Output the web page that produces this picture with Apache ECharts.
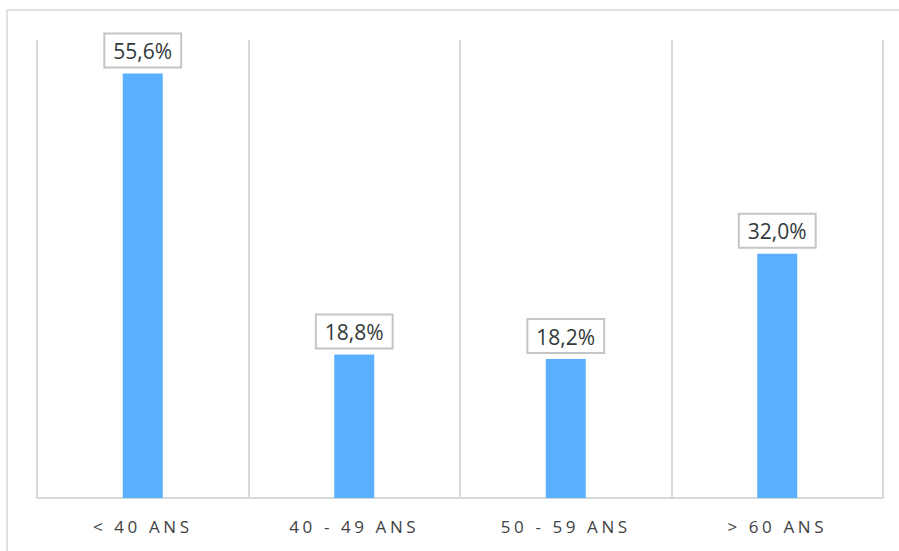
<!DOCTYPE html>
<html>
<head>
<meta charset="utf-8">
<script src="https://cdn.jsdelivr.net/npm/echarts@6/dist/echarts.min.js"></script>
<style>
html,body{margin:0;padding:0;background:#fff;}
#chart{width:899px;height:551px;}
#chart text[fill="#404142"]{letter-spacing:3.6px;}
</style>
</head>
<body>
<div id="chart"></div>
<script>
var categories = ["< 40 ANS", "40 - 49 ANS", "50 - 59 ANS", "> 60 ANS"];
var values = [55.6, 18.8, 18.2, 32.0];
var valueLabels = ["55,6%", "18,8%", "18,2%", "32,0%"];

var chart = echarts.init(document.getElementById('chart'), null, {renderer: 'svg'});
chart.setOption({
  animation: false,
  backgroundColor: '#ffffff',
  graphic: [{
    type: 'rect',
    shape: {x: 7, y: 10, width: 900, height: 560},
    style: {fill: 'none', stroke: '#dde3e3', lineWidth: 2},
    silent: true,
    z: -1
  }],
  grid: {left: 37, right: 16, top: 40, bottom: 53},
  xAxis: {
    type: 'category',
    data: categories,
    axisLine: {show: true, lineStyle: {color: '#d3dada', width: 2}},
    axisTick: {show: false},
    splitLine: {show: true, lineStyle: {color: '#d6dcdc', width: 2}},
    axisLabel: {color: '#404142', fontSize: 17, fontFamily: 'Open Sans', margin: 20}
  },
  yAxis: {
    type: 'value', min: 0, max: 60, show: false, splitLine: {show: false}
  },
  series: [{
    type: 'bar',
    data: values,
    barWidth: 40,
    itemStyle: {color: '#5aafff'},
    label: {
      show: true,
      position: 'top',
      distance: 7,
      formatter: function (p) { return valueLabels[p.dataIndex]; },
      color: '#333a3a',
      fontSize: 21,
      fontFamily: 'Open Sans',
      backgroundColor: '#ffffff',
      borderColor: '#c2c6c6',
      borderWidth: 2,
      padding: [6, 8, 5, 8]
    }
  }]
});
</script>
</body>
</html>
